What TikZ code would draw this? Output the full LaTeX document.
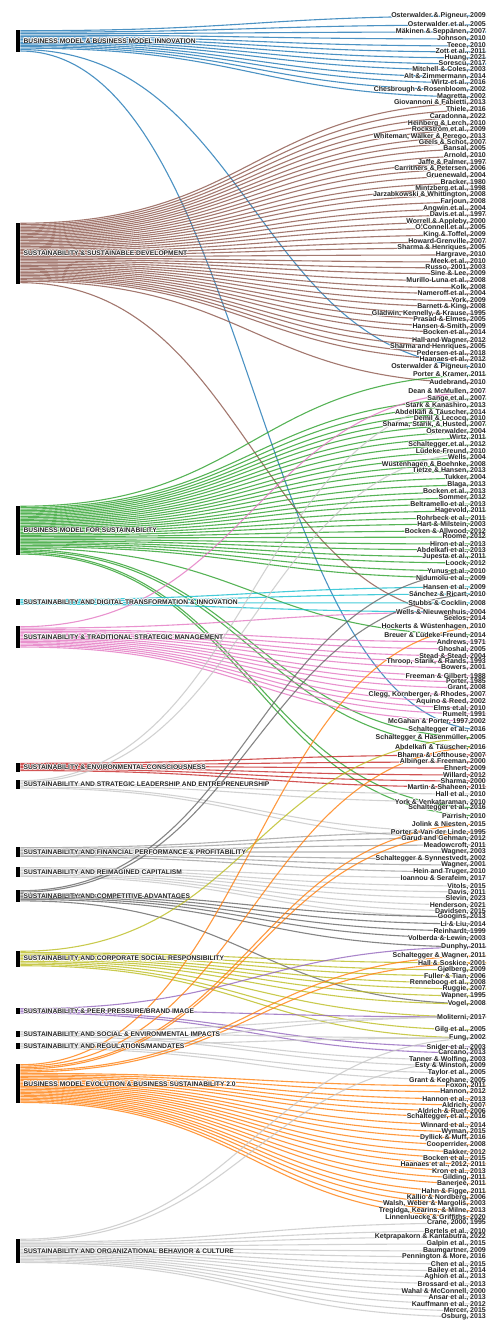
\documentclass[tikz,border=0pt]{standalone}
\usepackage{fontspec}
\setmainfont{Liberation Sans}
\usetikzlibrary{positioning,calc,backgrounds}
\definecolor{bmicol}{HTML}{1F77B4}
\definecolor{suscol}{HTML}{8C564B}
\definecolor{bmscol}{HTML}{2CA02C}
\definecolor{digcol}{HTML}{17BECF}
\definecolor{tsmcol}{HTML}{E377C2}
\definecolor{envcol}{HTML}{C62828}
\definecolor{lgcol}{HTML}{C7C7C7}
\definecolor{gycol}{HTML}{A0A0A0}
\definecolor{dgcol}{HTML}{666666}
\definecolor{csrcol}{HTML}{BCBD22}
\definecolor{peercol}{HTML}{9467BD}
\definecolor{evocol}{HTML}{FF7F0E}
\tikzstyle{lnk} = [line width=1.1pt, opacity=0.8]
\newcommand{\lw}{1.45}

\begin{document}
\begin{tikzpicture}[
    x=1pt, y=-1pt,
    bar/.style={rectangle, fill=black, minimum width=4.5pt, inner sep=0pt, anchor=north},
    cat/.style={inner sep=0pt, font=\fontsize{6.7}{7}\selectfont\bfseries, text=black!85},
    paper/.style={anchor=east, inner sep=0pt, font=\fontsize{7}{8}\selectfont\bfseries, text=black!85},
    halo/.style={text=white}
]
\useasboundingbox (0,0) rectangle (489,1322);

% Categories
\node (bmi) [bar, minimum height=21.75pt] at (18,30) {};
\node (sus) [bar, minimum height=60.9pt] at (18,222.5) {};
\node (bms) [bar, minimum height=49.3pt] at (18,505.5) {};
\node (dig) [bar, minimum height=5.8pt] at (18,599) {};
\node (tsm) [bar, minimum height=21.75pt] at (18,626) {};
\node (env) [bar, minimum height=8.7pt] at (18,762.6) {};
\node (lead) [bar, minimum height=8.7pt] at (18,780) {};
\node (fin) [bar, minimum height=10.15pt] at (18,847) {};
\node (cap) [bar, minimum height=10.15pt] at (18,867) {};
\node (comp) [bar, minimum height=11.6pt] at (18,890) {};
\node (csr) [bar, minimum height=15.95pt] at (18,950.5) {};
\node (peer) [bar, minimum height=5.8pt] at (18,1008) {};
\node (imp) [bar, minimum height=5.8pt] at (18,1031) {};
\node (reg) [bar, minimum height=5.8pt] at (18,1043) {};
\node (evo) [bar, minimum height=39.15pt] at (18,1064) {};
\node (org) [bar, minimum height=24.65pt] at (18,1238.5) {};

\foreach \c/\txt in {
bmi/{BUSINESS MODEL \& BUSINESS MODEL INNOVATION},
sus/{SUSTAINABILITY \& SUSTAINABLE DEVELOPMENT},
bms/{BUSINESS MODEL FOR SUSTAINABILITY},
dig/{SUSTAINABILITY AND DIGITAL TRANSFORMATION \& INNOVATION},
tsm/{SUSTAINABILITY \& TRADITIONAL STRATEGIC MANAGEMENT},
env/{SUSTAINABILITY \& ENVIRONMENTAL CONSCIOUSNESS},
lead/{SUSTAINABILITY AND STRATEGIC LEADERSHIP AND ENTREPRENEURSHIP},
fin/{SUSTAINABILITY AND FINANCIAL PERFORMANCE \& PROFITABILITY},
cap/{SUSTAINABILITY AND REIMAGINED CAPITALISM},
comp/{SUSTAINABILITY AND COMPETITIVE ADVANTAGES},
csr/{SUSTAINABILITY AND CORPORATE SOCIAL RESPONSIBILITY},
peer/{SUSTAINABILITY \& PEER PRESSURE/BRAND IMAGE},
imp/{SUSTAINABILITY AND SOCIAL \& ENVIRONMENTAL IMPACTS},
reg/{SUSTAINABILITY AND REGULATIONS/MANDATES},
evo/{BUSINESS MODEL EVOLUTION \& BUSINESS SUSTAINABILITY 2.0},
org/{SUSTAINABILITY AND ORGANIZATIONAL BEHAVIOR \& CULTURE}}
{
  \foreach \a in {0,45,...,315}
    \node (h\c-\a) [cat, halo, right=3pt of \c, shift={(\a:0.6)}] {\txt};
  \node (l\c) [cat, right=3pt of \c] {\txt};
}

% References
\foreach \yy/\txt [count=\i] in {
16/{Osterwalder \& Pigneur, 2009}, 25/{Osterwalder et al., 2005}, 32/{Mäkinen \& Seppänen, 2007},
39/{Johnson, 2010}, 46/{Teece, 2010}, 52/{Zott et al., 2011}, 58/{Huang, 2021}, 64/{Sorescu, 2017},
70/{Mitchell \& Coles, 2003}, 77/{Alt \& Zimmermann, 2014}, 83/{Wirtz et al., 2016},
90/{Chesbrough \& Rosenbloom, 2002}, 97/{Magretta, 2002}, 103/{Giovannoni \& Fabietti, 2013},
110/{Thiele, 2016}, 117/{Caradonna, 2022}, 124/{Heinberg \& Lerch, 2010}, 130/{Rockström et al., 2009},
137/{Whiteman, Walker \& Perego, 2013}, 143/{Geels \& Schot, 2007}, 149/{Bansal, 2005}, 156/{Arnold, 2010},
163/{Jaffe \& Palmer, 1997}, 169/{Carrithers \& Petersen, 2006}, 176/{Gruenewald, 2004}, 183/{Bracker, 1980},
189/{Mintzberg et al., 1998}, 195/{Jarzabkowski \& Whittington, 2008}, 202/{Farjoun, 2008},
209/{Angwin et al., 2004}, 215/{Davis et al., 1997}, 222/{Worrell \& Appleby, 2000}, 228/{O'Connell et al., 2005},
235/{King \& Toffel, 2009}, 242/{Howard-Grenville, 2007}, 248/{Sharma \& Henriques, 2005}, 255/{Hargrave, 2010},
262/{Meek et al., 2010}, 268/{Russo, 2001, 2003}, 274/{Sine \& Lee, 2009}, 281/{Murillo-Luna et al., 2008},
288/{Kolk, 2008}, 294/{Nameroff et al., 2004}, 301/{York, 2009}, 307/{Barnett \& King, 2008},
314/{Gladwin, Kennelly, \& Krause, 1995}, 320/{Prasad \& Elmes, 2005}, 327/{Hansen \& Smith, 2009},
333/{Bocken et al., 2014}, 341/{Hall and Wagner, 2012}, 347/{Sharma and Henriques, 2005},
354/{Pedersen et al., 2018}, 360/{Haanaes et al., 2012}, 367/{Osterwalder \& Pigneur, 2010},
375/{Porter \& Kramer, 2011}, 383/{Audebrand, 2010}, 392/{Dean \& McMullen, 2007}, 399/{Sange et al., 2007},
406/{Stark \& Kanashiro, 2013}, 413/{Abdelkafi \& Täuscher, 2014}, 419/{Demil \& Lecocq, 2010},
425/{Sharma, Starik, \& Husted, 2007}, 432/{Osterwalder, 2004}, 438/{Wirtz, 2011},
445/{Schaltegger et al., 2012}, 452/{Lüdeke-Freund, 2010}, 458/{Wells, 2004},
465/{Wüstenhagen \& Boehnke, 2008}, 471/{Tietze \& Hansen, 2013}, 478/{Tukker, 2004}, 485/{Blaga, 2013},
492/{Bocken et al., 2013}, 498/{Sommer, 2012}, 504/{Beltramello et al., 2013}, 511/{Hagevold, 2011},
518/{Rohrbeck et al., 2011}, 524/{Hart \& Milstein, 2003}, 531/{Bocken \& Allwood, 2012}, 537/{Roome, 2012},
544/{Hiron et al., 2013}, 550/{Abdelkafi et al., 2013}, 557/{Jupesta et al., 2011}, 563/{Loock, 2012},
571/{Yunus et al., 2010}, 578/{Nidumolu et al., 2009}, 587/{Hansen et al., 2009}, 594/{Sánchez \& Ricart, 2010},
603/{Stubbs \& Cocklin, 2008}, 612/{Wells \& Nieuwenhuis, 2004}, 618/{Seelos, 2014},
627/{Hockerts \& Wüstenhagen, 2010}, 635/{Breuer \& Lüdeke-Freund, 2014}, 642/{Andrews, 1971},
649/{Ghoshal, 2005}, 656/{Stead \& Stead, 2004}, 662/{Throop, Starik, \& Rands, 1993}, 668/{Bowers, 2001},
676/{Freeman \& Gilbert, 1988}, 682/{Porter, 1985}, 688/{Grant, 2008}, 695/{Clegg, Kornberger, \& Rhodes, 2007},
702/{Aquino \& Reed, 2002}, 708/{Elms et.al, 2010}, 714/{Rumelt, 1991}, 721/{McGahan \& Porter, 1997,2002},
730/{Schaltegger et al., 2016}, 738/{Schaltegger \& Hasenmüller, 2005}, 747/{Abdelkafi \& Täuscher, 2016},
755/{Bhamra \& Lofthouse, 2007}, 762/{Albinger \& Freeman, 2000}, 768/{Ehnert, 2009}, 775/{Willard, 2012},
781/{Sharma, 2000}, 787/{Martin \& Shaheen, 2011}, 794/{Hall et al., 2010}, 802/{York \& Venkataraman, 2010},
808/{Schaltegger et al., 2016}, 816/{Parrish, 2010}, 824/{Jolink \& Niesten, 2015},
832/{Porter \& Van der Linde, 1995}, 838/{Garud and Gehman, 2012}, 845/{Meadowcroft, 2011},
852/{Wagner, 2003}, 859/{Schaltegger \& Synnestvedt, 2002}, 865/{Wagner, 2001}, 872/{Hein and Truger, 2010},
878/{Ioannou \& Serafeim, 2017}, 886/{Vitols, 2015}, 892/{Davis, 2011}, 898/{Slevin, 2023},
905/{Henderson, 2021}, 911/{Davidsen, 2015}, 917/{Googins, 2013}, 924/{Li \& Liu, 2014},
931/{Reinhardt, 1999}, 938/{Volberda \& Lewin, 2003}, 947/{Dunphy, 2011}, 956/{Schaltegger \& Wagner, 2011},
963/{Hall \& Soskice, 2001}, 970/{Gjølberg, 2009}, 976/{Fuller \& Tian, 2006}, 983/{Renneboog et al., 2008},
989/{Ruggie, 2007}, 996/{Wapner, 1995}, 1004/{Vogel, 2008}, 1017/{Moliterni, 2017}, 1030/{Gilg et al., 2005},
1038/{Fung, 2002}, 1047/{Snider et al., 2003}, 1053/{Carcano, 2013}, 1060/{Tanner \& Wolfing, 2003},
1066/{Esty \& Winston, 2009}, 1073/{Taylor et al., 2005}, 1080/{Grant \& Keohane, 2005}, 1086/{Foxon, 2011},
1092/{Hannon, 2012}, 1099/{Hannon et al., 2013}, 1105/{Aldrich, 2007}, 1111/{Aldrich \& Ruef, 2006},
1117/{Schaltegger, et al., 2016}, 1125/{Winnard et al., 2014}, 1132/{Wyman, 2015}, 1138/{Dyllick \& Muff, 2016},
1145/{Cooperrider, 2008}, 1152/{Bakker, 2012}, 1158/{Bocken et al., 2015}, 1164/{Haanaes et al., 2012, 2011},
1171/{Kron et al., 2013}, 1178/{Gilding, 2011}, 1184/{Banerjee, 2011}, 1192/{Hahn \& Figge, 2011},
1198/{Kallio \& Nordberg, 2006}, 1204/{Walsh, Weber \& Margolis, 2003}, 1211/{Tregidga, Kearins, \& Milne, 2013},
1217/{Linnenluecke \& Griffiths, 2020}, 1223/{Crane, 2000, 1995}, 1231/{Bertels et al., 2010},
1237/{Ketprapakorn \& Kantabutra, 2022}, 1244/{Galpin et al., 2015}, 1251/{Baumgartner, 2009},
1257/{Pennington \& More, 2016}, 1264/{Chen et al., 2015}, 1271/{Bailey et al., 2014}, 1277/{Aghion et al., 2013},
1284/{Brossard et al., 2013}, 1291/{Wahal \& McConnell, 2000}, 1297/{Ansar et al., 2013},
1304/{Kauffmann et al., 2012}, 1311/{Mercer, 2015}, 1317/{Osburg, 2013}}
{
  \coordinate (p\i) at (486,\yy);
  \foreach \a in {0,45,...,315}
    \node (h\i-\a) [paper, halo] at ($(p\i)+(\a:0.6)$) {\txt};
  \node (n\i) [paper] at (p\i) {\txt};
}

% Flows
\begin{scope}[on background layer]
\foreach \t [count=\k] in {1,...,13,54,106}
  \draw [lnk, bmicol] ($(bmi.north east)+(0,{\k*\lw-0.5*\lw})$) .. controls +(232,0) and +(-232,0) .. (p\t);
\foreach \t [count=\k] in {14,...,53,56,90}
  \draw [lnk, suscol] ($(sus.north east)+(0,{\k*\lw-0.5*\lw})$) .. controls +(232,0) and +(-232,0) .. (p\t);
\foreach \t [count=\k] in {55,58,59,...,85,92,107,108,117,118}
  \draw [lnk, bmscol] ($(bms.north east)+(0,{\k*\lw-0.5*\lw})$) .. controls +(232,0) and +(-232,0) .. (p\t);
\foreach \t [count=\k] in {86,87,88,89}
  \draw [lnk, digcol] ($(dig.north east)+(0,{\k*\lw-0.5*\lw})$) .. controls +(232,0) and +(-232,0) .. (p\t);
\foreach \t [count=\k] in {57,89,93,94,...,105}
  \draw [lnk, tsmcol] ($(tsm.north east)+(0,{\k*\lw-0.5*\lw})$) .. controls +(232,0) and +(-232,0) .. (p\t);
\foreach \t [count=\k] in {109,...,114}
  \draw [lnk, envcol] ($(env.north east)+(0,{\k*\lw-0.5*\lw})$) .. controls +(232,0) and +(-232,0) .. (p\t);
\foreach \t [count=\k] in {58,66,115,116,120,121}
  \draw [lnk, lgcol] ($(lead.north east)+(0,{\k*\lw-0.5*\lw})$) .. controls +(232,0) and +(-232,0) .. (p\t);
\foreach \t [count=\k] in {120,...,126}
  \draw [lnk, gycol] ($(fin.north east)+(0,{\k*\lw-0.5*\lw})$) .. controls +(232,0) and +(-232,0) .. (p\t);
\foreach \t [count=\k] in {127,...,133}
  \draw [lnk, lgcol] ($(cap.north east)+(0,{\k*\lw-0.5*\lw})$) .. controls +(232,0) and +(-232,0) .. (p\t);
\foreach \t [count=\k] in {84,87,133,134,135,136,137,145}
  \draw [lnk, dgcol] ($(comp.north east)+(0,{\k*\lw-0.5*\lw})$) .. controls +(232,0) and +(-232,0) .. (p\t);
\foreach \t [count=\k] in {107,139,140,...,146,147,148}
  \draw [lnk, csrcol] ($(csr.north east)+(0,{\k*\lw-0.5*\lw})$) .. controls +(232,0) and +(-232,0) .. (p\t);
\foreach \t [count=\k] in {137,146,149,150}
  \draw [lnk, peercol] ($(peer.north east)+(0,{\k*\lw-0.5*\lw})$) .. controls +(232,0) and +(-232,0) .. (p\t);
\foreach \t [count=\k] in {146,148,151,152}
  \draw [lnk, lgcol] ($(imp.north east)+(0,{\k*\lw-0.5*\lw})$) .. controls +(232,0) and +(-232,0) .. (p\t);
\foreach \t [count=\k] in {146,148,153,154}
  \draw [lnk, lgcol] ($(reg.north east)+(0,{\k*\lw-0.5*\lw})$) .. controls +(232,0) and +(-232,0) .. (p\t);
\foreach \t [count=\k] in {91,108,119,120,138,139,155,156,...,175}
  \draw [lnk, evocol] ($(evo.north east)+(0,{\k*\lw-0.5*\lw})$) .. controls +(232,0) and +(-232,0) .. (p\t);
\foreach \t [count=\k] in {148,151,176,177,...,190}
  \draw [lnk, lgcol] ($(org.north east)+(0,{\k*\lw-0.5*\lw})$) .. controls +(232,0) and +(-232,0) .. (p\t);
\end{scope}

\end{tikzpicture}
\end{document}
